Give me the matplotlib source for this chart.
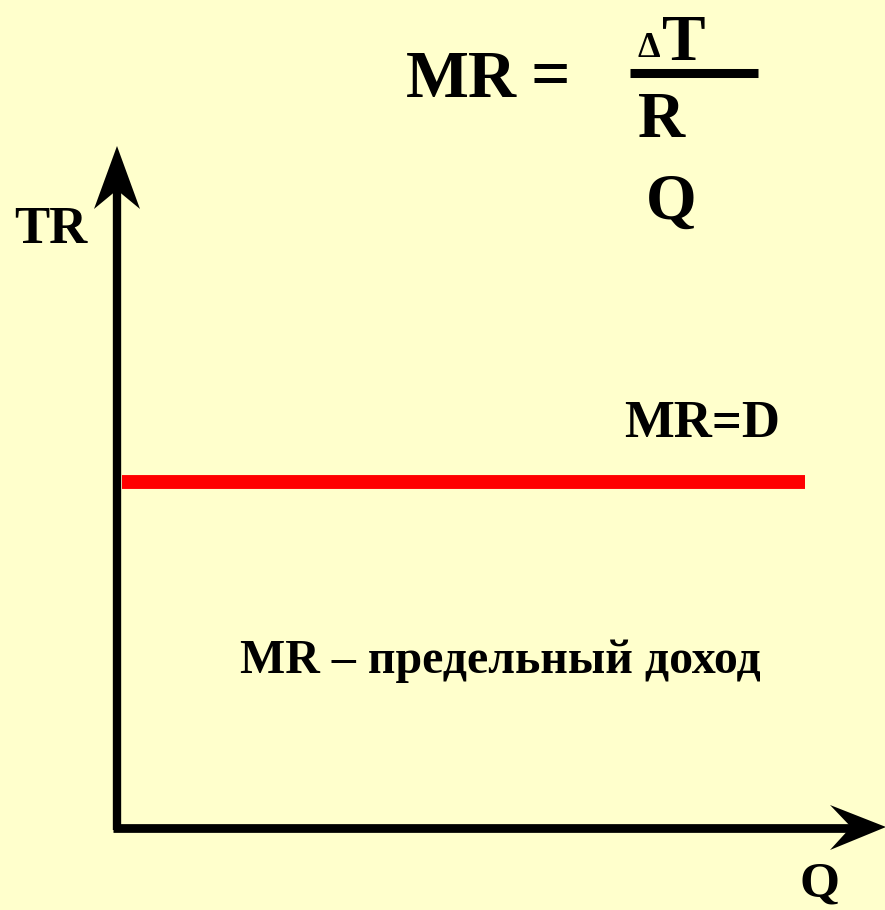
import matplotlib
matplotlib.use("Agg")
import matplotlib.pyplot as plt
from matplotlib.patches import Polygon

# ---- data ----
q_values = [0.06, 8.96]        # quantity range of the MR line
mr_values = [5.08, 5.08]       # constant marginal revenue (MR = D)
axis_labels = {"y": "TR", "x": "Q"}
line_label = "MR=D"
caption = "MR – предельный доход"

W, H = 885, 910
BG = "#FFFFCC"
fig = plt.figure(figsize=(W / 100, H / 100), dpi=100, facecolor=BG)
ax = fig.add_axes([0, 0, 1, 1])
ax.set_facecolor(BG)
ax.axis("off")

# data coordinates: origin at pixel (117, 827)
ox, oy = 117, 827
sx, sy = 76.8, 67.9
ax.set_xlim(-ox / sx, (W - ox) / sx)
ax.set_ylim(-(H - oy) / sy, oy / sy)


def px(x, y):
    return ((x - ox) / sx, (oy - y) / sy)


# axes lines
x0, y0 = px(117, 830)
x1, y1 = px(117, 190)
ax.plot([x0, x1], [y0, y1], color="black", lw=6.0, solid_capstyle="butt")
x0, y0 = px(113, 827.5)
x1, y1 = px(852, 827.5)
ax.plot([x0, x1], [y0, y1], color="black", lw=6.3, solid_capstyle="butt")

# arrowheads
ax.add_patch(Polygon([px(117, 146), px(94, 209), px(117, 190), px(140, 209)],
                     closed=True, color="black", lw=0))
ax.add_patch(Polygon([px(886, 827), px(830, 805), px(851, 827), px(830, 850)],
                     closed=True, color="black", lw=0))

# MR line
ax.plot(q_values, mr_values, color="#FF0000", lw=10, solid_capstyle="butt")

font = dict(family="Liberation Serif", weight="bold", color="black")


def txt(x, y, s, size, **kw):
    fig.text(x / W, 1 - y / H, s, fontsize=size, va="baseline", ha="left", **font, **kw)


txt(14, 243, axis_labels["y"], 38)
txt(800, 897, axis_labels["x"], 37)
txt(624, 437, line_label, 38)
txt(240, 673, caption, 34.5)

# formula
txt(406, 97, "MR", 48)
txt(531, 97, "=", 50)
txt(638, 57, "Δ", 26)
txt(662, 60, "T", 47)
ax.plot(*zip(px(630, 72.5), px(758, 72.5)), color="black", lw=6.5, solid_capstyle="butt")
txt(638, 137, "R", 47)
txt(646, 219, "Q", 47)

fig.savefig("out.png", dpi=100, facecolor=BG)
